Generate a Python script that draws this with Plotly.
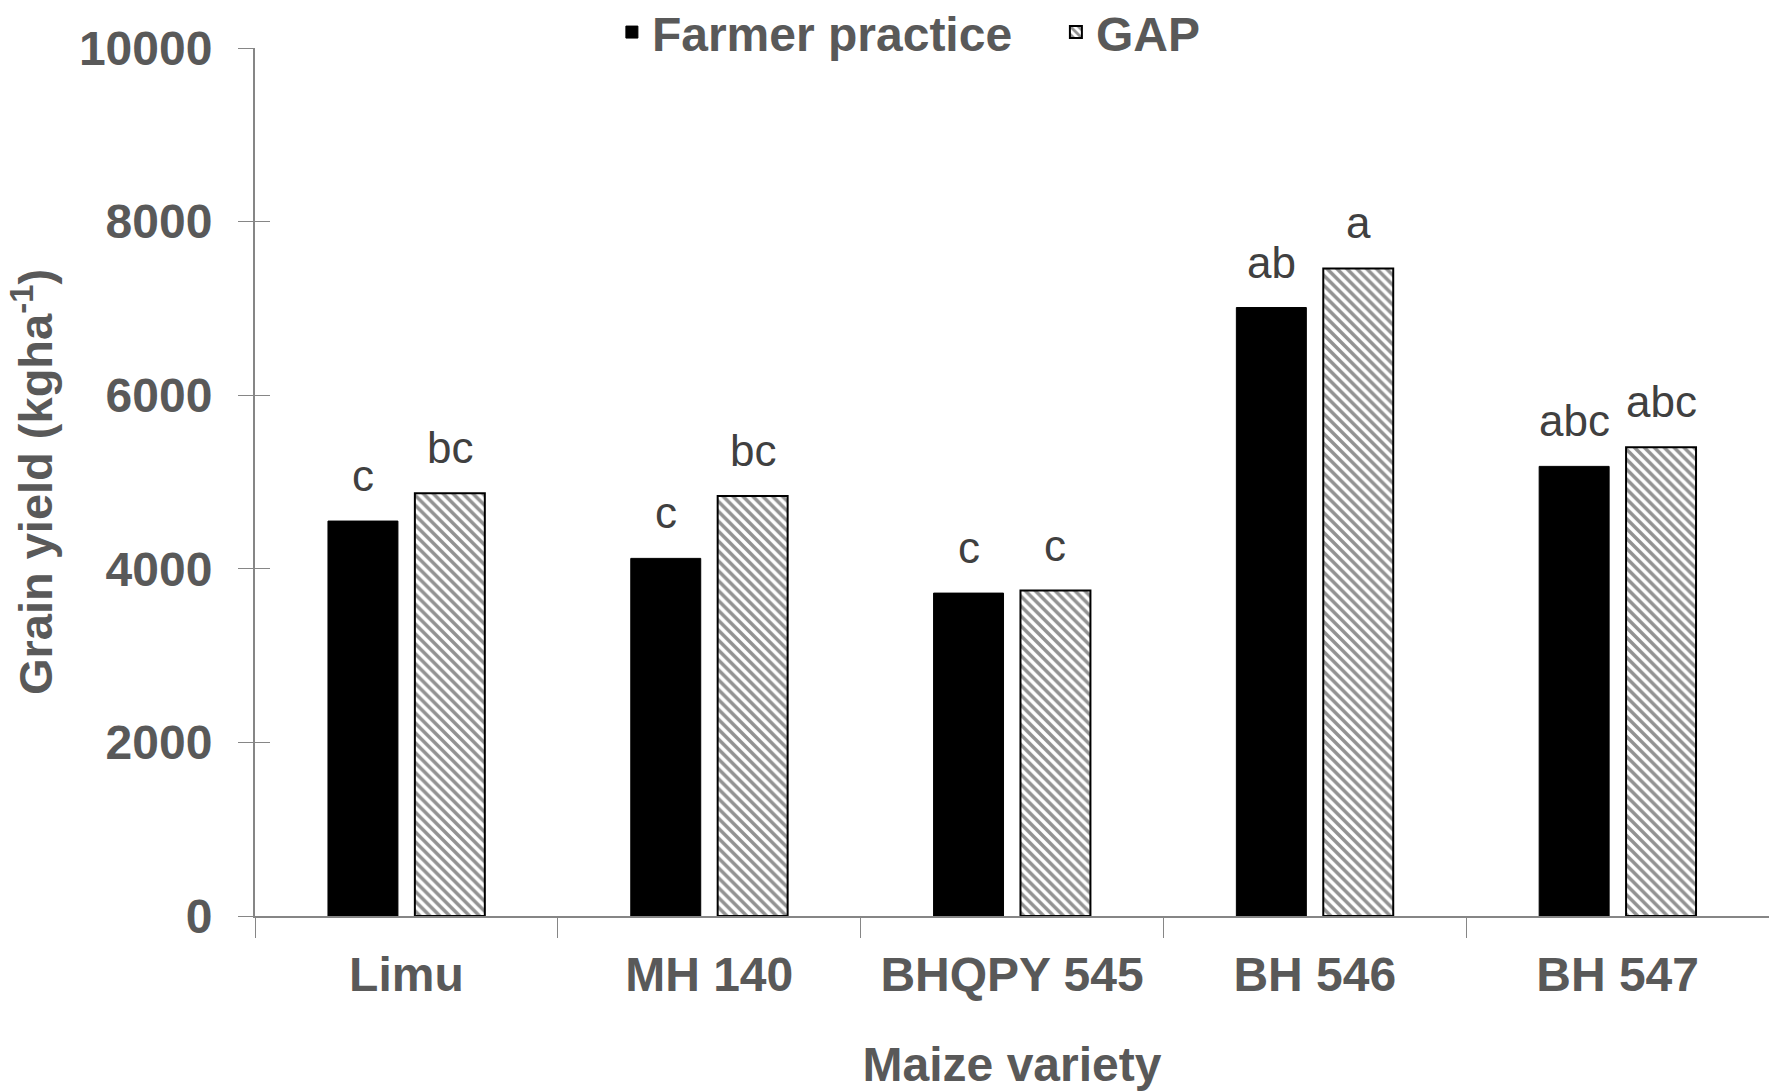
import plotly.graph_objects as go

categories = ["Limu", "MH 140", "BHQPY 545", "BH 546", "BH 547"]
farmer_practice = [4550, 4120, 3720, 7010, 5180]
gap = [4870, 4840, 3750, 7460, 5400]
farmer_letters = ["c", "c", "c", "ab", "abc"]
gap_letters = ["bc", "bc", "c", "a", "abc"]
y_ticks = [0, 2000, 4000, 6000, 8000, 10000]

W, H = 1769, 1091
ML, MR, MT, MB = 255, 0, 48, 175
BARGAP = 0.426
BARGROUPGAP = 0.195

AXIS_GREY = "#868686"
TEXT_GREY = "#595959"
FONT = "Liberation Sans"

fig = go.Figure()
fig.add_trace(go.Bar(
    name="Farmer practice", x=categories, y=farmer_practice,
    marker=dict(color="black", line=dict(color="black", width=1)),
))
fig.add_trace(go.Bar(
    name="GAP", x=categories, y=gap,
    marker=dict(color="white", line=dict(color="black", width=2),
                pattern=dict(shape="\\", fgcolor="#262626", bgcolor="white",
                             size=7, solidity=0.5)),
))
# invisible trace on overlay axis for inward ticks
fig.add_trace(go.Scatter(x=categories, y=[None]*len(categories), yaxis="y2",
                         showlegend=False, hoverinfo="skip"))

plot_w = W - ML - MR
cat_w = plot_w / len(categories)
slot = cat_w * (1 - BARGAP) / 2
for i, c in enumerate(categories):
    fig.add_annotation(x=c, y=farmer_practice[i], text=farmer_letters[i],
                       xshift=-slot / 2, yshift=19, yanchor="bottom", showarrow=False,
                       font=dict(family=FONT, size=44, color="#404040"))
    fig.add_annotation(x=c, y=gap[i], text=gap_letters[i],
                       xshift=slot / 2, yshift=19, yanchor="bottom", showarrow=False,
                       font=dict(family=FONT, size=44, color="#404040"))

fig.update_layout(
    width=W, height=H,
    margin=dict(l=ML, r=MR, t=MT, b=MB, autoexpand=False),
    paper_bgcolor="white", plot_bgcolor="white",
    barmode="group", bargap=BARGAP, bargroupgap=BARGROUPGAP,
    font=dict(family=FONT, color=TEXT_GREY),
    legend=dict(orientation="h", x=0.529, xanchor="center", y=1.018, yanchor="middle",
                font=dict(family=FONT, size=48, color=TEXT_GREY, weight="bold"),
                bgcolor="rgba(0,0,0,0)", itemwidth=30, traceorder="normal",
                entrywidth=399, entrywidthmode="pixels"),
    xaxis=dict(
        type="category", range=[-0.5, 4.5], showline=True, linecolor=AXIS_GREY, linewidth=2,
        ticks="outside", tickson="boundaries", ticklen=20, tickcolor=AXIS_GREY, tickwidth=1,
        tickfont=dict(family=FONT, size=48, color=TEXT_GREY, weight="bold"),
        ticklabelstandoff=15,
        showgrid=False, zeroline=False,
        title=dict(text="Maize variety", standoff=48,
                   font=dict(family=FONT, size=48, color=TEXT_GREY, weight="bold")),
    ),
    yaxis=dict(
        range=[0, 10000], tickvals=y_ticks, tickformat="d",
        showline=True, linecolor=AXIS_GREY, linewidth=2,
        ticks="outside", ticklen=15, tickcolor=AXIS_GREY, tickwidth=1,
        tickfont=dict(family=FONT, size=48, color=TEXT_GREY, weight="bold"),
        ticklabelstandoff=16,
        showgrid=False, zeroline=False,
        title=dict(text="Grain yield (kgha<sup>-1</sup>)", standoff=11,
                   font=dict(family=FONT, size=47, color=TEXT_GREY, weight="bold")),
    ),
    yaxis2=dict(
        overlaying="y", side="left", range=[0, 10000], tickvals=y_ticks,
        ticks="inside", ticklen=15, tickcolor=AXIS_GREY, tickwidth=1,
        showticklabels=False, showgrid=False, zeroline=False, showline=False,
    ),
)

fig.write_html("out.html")
